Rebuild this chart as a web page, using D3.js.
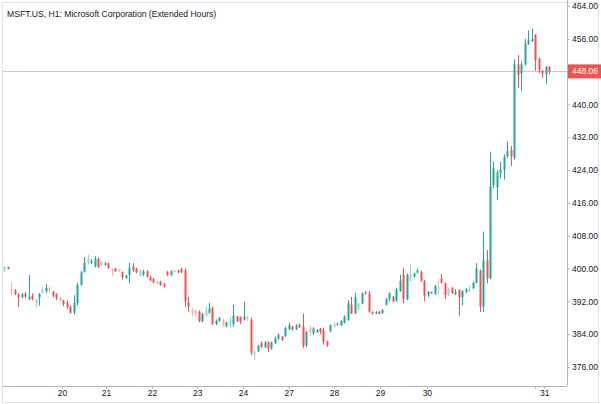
<!DOCTYPE html>
<html>
<head>
<meta charset="utf-8">
<script src="https://cdn.jsdelivr.net/npm/d3@7"></script>
<style>
  body { margin: 0; background: #fff; }
  text { font-family: "Liberation Sans", Arial, sans-serif; }
</style>
</head>
<body>
<div id="chart"></div>
<script>
// hourly candles (ext = extended hours, drawn faded)
var opens  = [399.3,400.4,395.0,394.5,393.7,393.0,393.8,392.5,393.3,391.5,392.9,394.0,394.5,395.2,394.4,393.7,392.9,392.1,391.7,390.6,
              389.2,391.6,396.0,399.2,401.2,401.4,400.5,402.3,401.6,400.9,401.3,399.9,400.0,399.8,399.1,397.7,398.4,400.5,400.0,398.2,
              398.5,399.3,397.9,397.4,396.8,396.8,396.3,399.2,398.4,399.6,399.5,399.8,399.5,391.7,390.0,389.6,389.5,387.1,388.5,389.2,
              390.3,386.5,387.3,387.5,385.9,386.0,386.5,388.3,388.2,387.5,388.2,387.5,379.0,379.8,381.8,380.8,382.0,380.5,381.8,382.9,
              383.4,383.5,385.2,385.8,385.2,386.2,385.8,381.2,385.5,384.3,384.5,385.3,385.0,382.2,384.7,385.8,386.3,386.2,386.8,387.5,
              391.2,389.0,390.0,391.5,394.2,393.9,389.4,389.0,389.5,389.1,391.2,392.6,393.1,392.2,394.5,398.5,392.5,397.0,398.0,399.0,
              399.2,396.9,393.5,394.0,393.8,395.5,397.5,396.4,393.5,395.3,393.8,394.8,393.0,394.3,394.5,395.2,396.5,399.5,390.7,402.0,
              397.6,420.3,419.8,423.3,424.0,427.4,428.9,427.0,449.8,447.5,449.8,454.8,455.4,457.0,451.2,448.3,447.3,449.2];
var highs  = [400.6,400.5,396.7,395.0,394.0,394.0,394.3,398.4,394.0,392.8,394.0,395.5,396.2,395.5,394.5,394.0,393.1,392.4,392.2,391.0,
              393.5,396.5,399.4,402.8,403.4,402.3,403.0,402.7,401.8,401.6,401.4,400.1,400.1,399.9,399.3,398.5,401.4,401.3,400.2,399.7,
              399.7,399.6,398.3,397.7,397.0,397.0,396.5,399.4,399.6,399.8,399.7,400.2,400.1,393.1,390.4,390.0,389.8,389.2,390.7,391.6,
              390.7,387.6,388.2,387.7,387.0,388.3,391.1,388.5,388.3,391.9,388.5,388.0,380.2,381.4,382.2,382.3,382.3,382.2,383.4,384.2,
              383.6,385.8,386.8,386.0,386.4,386.6,389.0,384.8,386.0,385.7,385.2,385.5,385.6,382.4,386.4,386.8,386.8,387.4,388.6,392.3,
              393.1,394.1,391.6,394.1,394.5,394.5,389.6,389.6,389.6,390.1,392.8,394.2,393.3,395.3,398.5,400.1,398.8,401.0,399.0,400.0,
              399.5,397.2,394.5,394.4,396.0,396.9,398.7,396.6,395.3,395.5,395.0,394.9,394.7,395.2,395.8,396.8,401.3,399.8,409.0,404.5,
              428.5,426.0,424.0,426.0,427.8,431.0,429.9,451.0,452.0,450.5,456.0,458.0,458.5,457.1,451.4,448.4,449.4,449.3];
var lows   = [399.2,399.8,393.5,393.5,390.6,392.8,392.8,392.3,392.2,390.6,391.0,393.9,394.0,394.1,393.0,392.3,391.7,390.8,390.2,389.0,
              388.8,391.0,395.8,399.0,401.0,401.1,400.3,400.1,400.7,400.7,399.9,398.2,399.2,399.1,397.3,397.5,396.4,399.2,398.8,398.0,
              398.2,397.8,396.9,396.4,396.2,395.8,395.4,398.2,398.2,399.0,398.9,398.9,390.7,389.5,388.3,388.3,386.9,386.9,388.3,389.0,
              386.2,386.2,387.0,385.8,385.7,385.4,385.8,387.0,386.5,387.3,387.2,378.9,377.7,379.6,380.6,380.6,379.7,380.2,381.6,382.7,
              382.3,383.3,385.0,384.9,385.0,385.5,380.6,380.8,383.5,383.8,384.3,384.0,381.5,380.9,384.5,385.6,386.1,386.0,386.6,387.3,
              388.9,389.0,389.9,391.3,393.6,389.2,388.8,388.9,388.8,389.0,391.0,392.0,391.8,391.9,394.3,391.5,392.3,396.8,397.8,398.8,
              396.8,392.0,393.0,393.9,393.6,393.9,396.4,392.5,393.3,393.8,393.5,388.5,391.0,394.0,394.3,395.0,396.4,389.4,389.4,396.4,
              397.4,419.6,416.7,422.0,421.7,427.0,425.0,426.5,444.0,443.3,449.5,454.5,455.2,448.2,447.6,446.5,445.0,447.3];
var closes = [400.5,399.9,394.5,393.8,393.0,393.7,393.2,393.1,392.5,392.3,393.8,395.0,395.3,394.5,393.4,392.9,392.2,391.3,390.7,389.2,
              391.6,396.0,399.1,401.4,402.5,401.8,402.4,400.4,400.9,401.3,400.1,399.5,399.3,399.3,397.8,398.3,400.1,399.7,399.1,399.5,
              399.3,398.0,397.1,396.6,396.4,396.0,395.6,398.4,399.3,399.2,399.0,399.1,392.0,390.7,389.0,389.0,387.1,389.0,389.8,390.3,
              386.5,387.3,388.0,386.2,386.9,387.5,388.5,387.2,387.0,388.3,387.8,379.5,379.8,381.2,380.9,382.0,380.5,382.0,383.0,383.8,
              382.6,385.5,386.2,385.1,386.1,385.7,381.2,384.5,384.5,385.4,385.0,384.6,382.2,381.3,386.2,386.5,386.6,387.2,388.3,391.5,
              389.0,393.0,391.5,394.0,393.9,389.5,389.0,389.4,389.0,389.9,392.5,394.0,392.0,394.9,397.0,392.6,398.5,398.5,398.8,399.5,
              397.0,393.4,394.3,394.3,395.8,395.0,396.5,393.5,395.0,394.0,394.3,393.0,394.5,395.0,395.2,396.5,400.0,390.7,402.0,397.6,
              420.0,424.4,423.4,424.1,427.2,428.7,427.4,449.8,447.2,449.8,454.9,455.6,456.0,450.8,448.4,447.5,449.1,448.06];
var ext    = [1,0,1,0,0,0,0,0,0,1,0,1,0,1,0,0,1,0,0,0,
              0,0,0,0,1,0,0,0,1,0,0,1,0,1,0,0,0,0,0,1,
              0,0,0,0,1,0,0,0,0,1,0,0,0,0,1,1,0,0,1,0,
              0,0,0,1,0,1,0,0,0,0,1,0,1,0,0,0,0,0,0,0,
              0,0,0,0,0,0,0,0,1,0,0,0,0,0,0,1,0,0,0,0,
              0,0,1,0,0,0,0,0,0,0,0,0,0,0,0,0,0,1,0,0,
              0,0,0,0,0,1,0,0,1,0,0,0,0,0,1,0,0,0,0,0,
              0,0,0,0,0,0,0,0,0,0,0,0,0,0,0,0,0,0];

// day labels and the candle index they sit under
var dayLabels = ["20","21","22","23","24","27","28","29","30","31"];
var dayIndex  = [16.6, 29.3, 42.6, 55.6, 68.8, 82, 95, 108.3, 121.8, 155.6];
var extraTick = [153];

// price axis
var priceTicks = [376, 384, 392, 400, 408, 416, 424, 432, 440, 448, 456, 464];
var lastPrice = 448.06;
var title = "MSFT.US, H1: Microsoft Corporation (Extended Hours)";

var width = 601, height = 404;
var plotRight = 567, plotBottom = 387, axisY = 386;
var up = "#26a69a", down = "#ef5350";

var svg = d3.select("#chart")
    .append("svg")
    .attr("width", width)
    .attr("height", height);

// light frame
svg.append("rect")
    .attr("x", 2.5).attr("y", 2.5)
    .attr("width", width - 5).attr("height", height - 4)
    .attr("fill", "none")
    .attr("stroke", "#e0e3eb");

var x = d3.scaleLinear()
    .domain([0, opens.length - 1])
    .range([4.3, 549]);

var y = d3.scaleLinear()
    .domain([371.12, 465.46])
    .range([plotBottom, 0]);

// last price line
svg.append("line")
    .attr("x1", 3).attr("x2", plotRight)
    .attr("y1", Math.round(y(lastPrice)) + 0.5)
    .attr("y2", Math.round(y(lastPrice)) + 0.5)
    .attr("stroke", "#f7b5b4")
    .attr("stroke-width", 1);

// candles
var data = opens.map(function(o, i) {
  return {i: i, o: o, h: highs[i], l: lows[i], c: closes[i], ext: ext[i]};
});

var candles = svg.append("g")
    .selectAll("g")
    .data(data)
    .enter()
    .append("g")
    .attr("opacity", function(d) { return d.ext ? 0.45 : 1; })
    .attr("fill", function(d) { return d.c >= d.o ? up : down; })
    .attr("stroke", function(d) { return d.c >= d.o ? up : down; });

candles.append("line")
    .attr("x1", function(d) { return Math.round(x(d.i)) + 0.5; })
    .attr("x2", function(d) { return Math.round(x(d.i)) + 0.5; })
    .attr("y1", function(d) { return y(d.h); })
    .attr("y2", function(d) { return y(d.l); })
    .attr("stroke-width", 1);

candles.append("rect")
    .attr("stroke", "none")
    .attr("x", function(d) { return Math.round(x(d.i)) - 0.5; })
    .attr("width", 2)
    .attr("y", function(d) { return y(Math.max(d.o, d.c)); })
    .attr("height", function(d) { return Math.max(1, Math.abs(y(d.o) - y(d.c))); });

// bottom time axis
var xAxis = svg.append("g")
    .attr("transform", "translate(0," + axisY + ")")
    .call(d3.axisBottom(x)
        .tickValues(dayIndex.concat(extraTick))
        .tickSize(3)
        .tickFormat(function(d) { var k = dayIndex.indexOf(d); return k < 0 ? "" : dayLabels[k]; }));
xAxis.select(".domain")
    .attr("d", "M3,0.5H" + plotRight)
    .attr("stroke", "#b2b5be");
xAxis.selectAll(".tick line").attr("stroke", "#b2b5be");
xAxis.selectAll(".tick text")
    .attr("y", 4)
    .attr("font-size", 8.5)
    .attr("font-family", "Liberation Sans, Arial, sans-serif")
    .attr("fill", "#131722");

// right price axis
var yAxis = svg.append("g")
    .attr("transform", "translate(" + plotRight + ",0)")
    .call(d3.axisRight(y)
        .tickValues(priceTicks)
        .tickSize(3)
        .tickFormat(d3.format(".2f")));
yAxis.select(".domain")
    .attr("d", "M0.5,0V" + axisY)
    .attr("stroke", "#b2b5be");
yAxis.selectAll(".tick line").attr("stroke", "#b2b5be");
yAxis.selectAll(".tick text")
    .attr("x", 5)
    .attr("font-size", 8.5)
    .attr("font-family", "Liberation Sans, Arial, sans-serif")
    .attr("fill", "#131722");

// last price tag
var tagY = y(lastPrice);
svg.append("rect")
    .attr("x", plotRight + 1).attr("y", tagY - 7)
    .attr("width", width - plotRight - 1).attr("height", 14)
    .attr("fill", down);
svg.append("text")
    .attr("x", plotRight + 5).attr("y", tagY)
    .attr("dy", "0.32em")
    .attr("font-size", 8.5)
    .attr("fill", "#fff")
    .text(d3.format(".2f")(lastPrice));

// title
svg.append("text")
    .attr("x", 7).attr("y", 17)
    .attr("font-size", 8.6)
    .attr("fill", "#131722")
    .text(title);
</script>
</body>
</html>
